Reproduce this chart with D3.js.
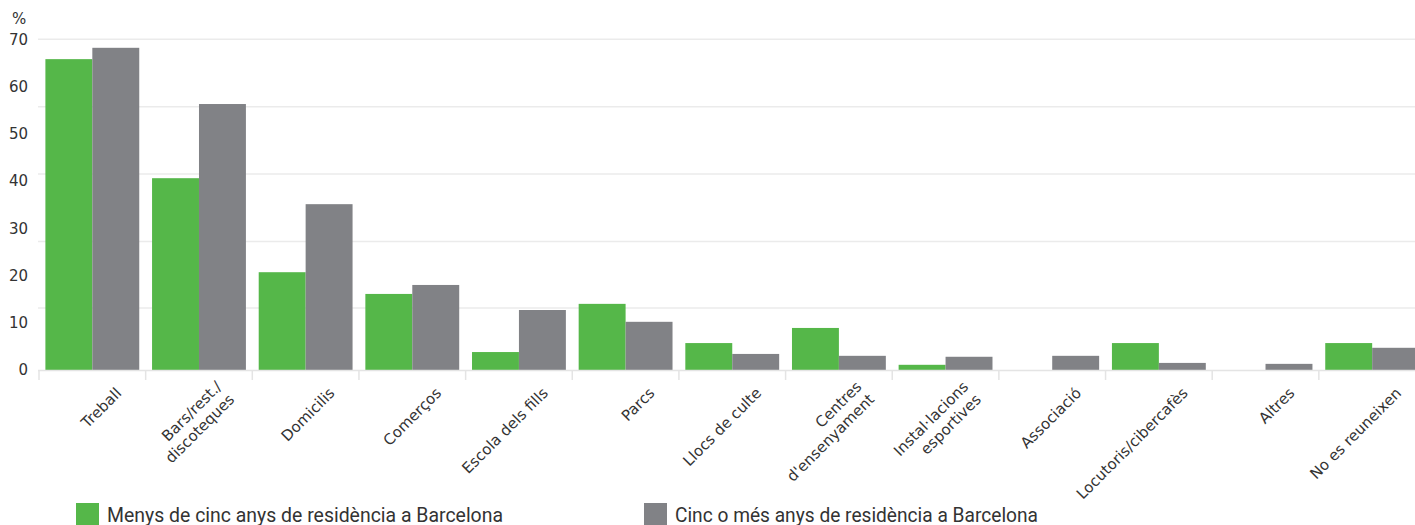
<!DOCTYPE html>
<html>
<head>
<meta charset="utf-8">
<script src="https://cdnjs.cloudflare.com/ajax/libs/d3/7.8.5/d3.min.js"></script>
<style>
  html, body { margin: 0; padding: 0; background: #fff; overflow: hidden; }
  svg { display: block; }
</style>
</head>
<body>
<svg width="1415" height="525"></svg>
<script>
// llocs de reunió segons anys de residència (%)
var categories = ["Treball", "Bars/rest./\ndiscoteques", "Domicilis", "Comerços", "Escola dels fills",
    "Parcs", "Llocs de culte", "Centres\nd'ensenyament", "Instal·lacions\nesportives", "Associació",
    "Locutoris/cibercafès", "Altres", "No es reuneixen"];
var menys = [65.8, 40.6, 20.7, 16.1, 3.8, 14.0, 5.7, 8.9, 1.1, 0, 5.7, 0, 5.7];
var cinc = [68.2, 56.3, 35.1, 18.0, 12.7, 10.2, 3.4, 3.0, 2.8, 3.0, 1.5, 1.3, 4.7];
var seriesNames = ["Menys de cinc anys de residència a Barcelona", "Cinc o més anys de residència a Barcelona"];
var yTicks = [0, 10, 20, 30, 40, 50, 60, 70];
var gridTicks = [13.1, 27.2, 41.5, 55.7, 70];

var colors = ["#55b749", "#818286"];
var left = 38, right = 1415;

var svg = d3.select("svg");

var y = d3.scaleLinear().domain([0, 70]).range([370, 39.3]);

var x0 = d3.scaleBand()
    .domain(categories)
    .range([39, 1425.5])
    .paddingInner(0.12)
    .paddingOuter(0.06);

var x1 = d3.scaleBand()
    .domain([0, 1])
    .range([0, x0.bandwidth()]);

// grid
svg.append("g")
    .selectAll("line")
    .data(gridTicks)
    .enter()
    .append("line")
    .attr("x1", left)
    .attr("x2", right)
    .attr("y1", function(d) { return y(d); })
    .attr("y2", function(d) { return y(d); })
    .style("stroke", "#ebebeb")
    .style("stroke-width", "1.5px");

// y labels
var yAxis = svg.append("g")
    .attr("transform", "translate(" + left + ",0)")
    .call(d3.axisLeft(y).tickValues(yTicks).tickSize(0).tickPadding(10));
yAxis.select(".domain").remove();
yAxis.selectAll("text")
    .style("font-family", "DejaVu Sans")
    .style("font-size", "15px")
    .style("fill", "#333");

svg.append("text")
    .attr("x", 12)
    .attr("y", 24)
    .style("font-family", "DejaVu Sans")
    .style("font-size", "15px")
    .style("fill", "#333")
    .text("%");

// bars
var groups = svg.append("g")
    .selectAll("g")
    .data(categories)
    .enter()
    .append("g")
    .attr("transform", function(d) { return "translate(" + x0(d) + ",0)"; });

groups.selectAll("rect")
    .data(function(d, i) { return [menys[i], cinc[i]]; })
    .enter()
    .append("rect")
    .attr("x", function(d, j) { return x1(j); })
    .attr("width", x1.bandwidth())
    .attr("y", function(d) { return y(d); })
    .attr("height", function(d) { return y(0) - y(d); })
    .style("fill", function(d, j) { return colors[j]; });

// x axis line + ticks at band edges
svg.append("line")
    .attr("x1", left)
    .attr("x2", right)
    .attr("y1", y(0) + 0.5)
    .attr("y2", y(0) + 0.5)
    .style("stroke", "#e4e4e4")
    .style("stroke-width", "1.5px");

var edges = categories.map(function(c) { return x0(c) - x0.step() * x0.paddingOuter(); });
svg.append("g")
    .selectAll("line")
    .data(edges)
    .enter()
    .append("line")
    .attr("x1", function(d) { return d; })
    .attr("x2", function(d) { return d; })
    .attr("y1", y(0))
    .attr("y2", y(0) + 10)
    .style("stroke", "#e4e4e4")
    .style("stroke-width", "1.5px");

// category labels
var lh = 18;
svg.append("g")
    .selectAll("text")
    .data(categories)
    .enter()
    .append("text")
    .attr("transform", function(d) {
        return "translate(" + (x0(d) + x0.bandwidth() / 2 + 30) + ",394) rotate(-45)";
    })
    .style("text-anchor", "end")
    .style("font-family", "DejaVu Sans")
    .style("font-size", "15px")
    .style("fill", "#333")
    .each(function(d) {
        var lines = d.split("\n");
        var t = d3.select(this);
        lines.forEach(function(l, i) {
            t.append("tspan")
                .attr("x", 0)
                .attr("y", (i - (lines.length - 1) / 2) * lh)
                .text(l);
        });
    });

// legend
var legendX = [76, 644];
var legend = svg.append("g")
    .selectAll("g")
    .data(seriesNames)
    .enter()
    .append("g")
    .attr("transform", function(d, i) { return "translate(" + legendX[i] + ",503)"; });

legend.append("rect")
    .attr("width", 23)
    .attr("height", 23)
    .style("fill", function(d, i) { return colors[i]; });

legend.append("text")
    .attr("x", 31)
    .attr("y", 18.5)
    .attr("textLength", function(d, i) { return i == 0 ? 396 : 363; })
    .attr("lengthAdjust", "spacingAndGlyphs")
    .style("font-family", "Roboto")
    .style("font-size", "20px")
    .style("fill", "#333")
    .text(function(d) { return d; });
</script>
</body>
</html>
